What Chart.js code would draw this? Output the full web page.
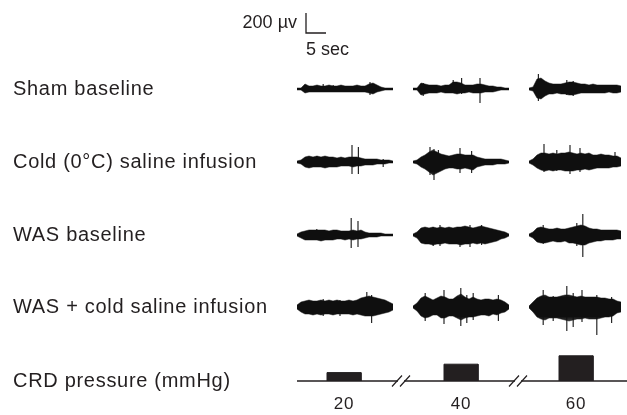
<!DOCTYPE html>
<html>
<head>
<meta charset="utf-8">
<script src="https://cdn.jsdelivr.net/npm/chart.js@4/dist/chart.umd.min.js"></script>
<style>
html, body { margin: 0; padding: 0; background: #fff; }
#wrap { width: 627px; height: 415px; }
</style>
</head>
<body>
<div id="wrap"><canvas id="emgChart"></canvas></div>
<script>
// rows, top to bottom
const rowLabels = ['Sham baseline', 'Cold (0°C) saline infusion', 'WAS baseline', 'WAS + cold saline infusion', 'CRD pressure (mmHg)'];
const rowBase = [3010, 2280, 1550, 830, 90];   // µV offset of each trace
const segStart = [0.25, 29.25, 58.25];         // sec, one recording window per CRD step
const sampleStep = 1;                          // sec between envelope samples

// EMG envelope: µV above / below the baseline
const shamUp = [
  [10,10,50,30,30,40,30,30,40,30,30,40,30,30,30,40,30,30,50,60,40,20,10,10,10],
  [10,10,60,50,40,40,40,30,40,40,70,70,60,40,40,40,50,50,40,30,30,20,20,10,10],
  [10,20,100,110,80,60,50,50,50,60,70,70,60,50,50,40,50,40,40,40,40,40,40,30]
];
const shamDown = [
  [10,10,40,30,30,30,30,30,30,30,30,30,30,30,30,30,30,30,40,50,30,20,10,10,10],
  [10,10,60,50,40,40,40,30,40,40,40,50,40,40,30,40,40,40,30,30,30,20,10,10,10],
  [10,20,90,100,70,50,50,40,50,50,60,60,50,40,40,40,40,40,40,40,30,40,40,30]
];
const shamSpikes = [[6.8,50,30],[9.3,40,30],[18.5,70,60],[31.8,60,70],[39.3,90,40],[41.4,110,50],[46,110,140],[60.6,150,120],[67.7,90,60],[69.3,80,70]];

const coldUp = [
  [10,20,50,60,50,60,50,60,50,50,40,50,40,50,50,50,40,30,30,30,30,20,20,20,10],
  [10,20,50,70,100,120,100,80,70,60,70,80,80,70,70,70,50,40,30,30,30,30,30,20,10],
  [10,30,70,90,90,80,90,80,90,90,100,90,80,90,80,90,70,70,80,70,70,60,60,40]
];
const coldDown = [
  [10,20,50,60,50,50,50,60,50,50,50,40,40,40,50,40,40,30,30,30,20,20,20,10,10],
  [10,20,50,70,100,130,110,90,70,60,60,70,70,60,70,80,50,40,30,30,30,20,20,20,10],
  [10,30,60,80,90,80,90,80,80,90,90,90,80,80,70,80,70,60,60,60,60,50,50,40]
];
const coldSpikes = [[5.2,60,50],[14,170,120],[15.6,150,120],[21.8,30,50],[33.5,150,130],[34.5,130,180],[35.6,120,90],[41,140,110],[43.9,110,110],[62,180,100],[65.2,120,90],[68.5,170,120],[71,140,100],[79.75,100,50]];

const wasUp = [
  [10,30,40,50,50,50,50,50,40,50,50,40,40,40,50,40,50,30,20,20,20,20,10,10,10],
  [10,30,70,80,70,80,70,80,70,80,70,80,80,90,80,70,80,90,80,70,60,50,40,30,10],
  [10,30,70,80,70,60,60,70,60,60,70,80,90,100,90,70,60,60,50,50,50,50,50,40]
];
const wasDown = [
  [10,30,50,50,50,50,60,50,50,50,40,40,50,40,50,40,40,30,20,20,20,10,10,10,10],
  [10,30,80,90,90,100,90,90,80,90,90,90,100,90,90,80,90,80,90,80,70,60,40,30,10],
  [10,30,70,80,80,70,60,70,70,60,80,80,90,100,100,80,70,60,60,50,50,50,40,40]
];
const wasSpikes = [[5.2,60,50],[13.8,170,130],[15.5,140,120],[34.3,80,110],[36,100,110],[41,80,120],[43.5,100,120],[46.4,100,100],[61.8,100,90],[70.2,120,110],[71.7,210,220]];

const wasColdUp = [
  [20,50,60,70,60,60,70,60,70,60,70,60,60,70,60,70,90,100,110,100,90,80,70,50,30],
  [10,40,90,110,90,70,90,110,100,80,80,110,130,100,80,100,80,70,80,80,70,80,70,50,20],
  [10,50,90,110,120,100,100,100,110,120,120,110,100,110,100,100,100,100,90,90,80,80,60,50]
];
const wasColdDown = [
  [20,50,70,70,80,70,80,70,70,80,70,70,70,70,80,70,80,90,90,90,80,70,60,50,30],
  [10,40,90,110,100,80,80,110,110,90,90,110,130,110,100,100,90,80,80,90,70,80,60,50,20],
  [10,50,100,120,130,110,110,110,120,130,140,130,120,120,110,120,120,120,110,100,100,90,60,50]
];
const wasColdSpikes = [[6.8,80,90],[11,70,90],[17.7,150,90],[18.9,120,160],[32.3,140,140],[37,170,170],[41.2,190,190],[42.7,120,160],[44.3,140,130],[50.6,120,140],[61.8,170,180],[64.3,110,140],[67.7,210,240],[69.3,140,200],[71.5,170,150],[75.2,120,280],[78.9,100,160]];

// colorectal distension steps
const crdPressure = [20, 40, 60];        // mmHg
const crdOnset = [7.75, 37, 65.75];      // sec
const crdDuration = 8.5;                 // sec
const crdScale = 4.2;                    // display units per mmHg
const crdLine = [[0.25, 25.5], [27, 54.75], [56.25, 82.75]]; // baseline pieces between axis breaks
const breakTimes = [26.25, 55.5];

// scale bar: 200 µV, 5 sec
const scaleBarAt = [2.5, 3570];
const scaleBarSize = [5, 200];

const ink = 'rgb(15,15,15)';
const textInk = '#231f20';

const traceRows = [
  { up: shamUp, down: shamDown, spikes: shamSpikes },
  { up: coldUp, down: coldDown, spikes: coldSpikes },
  { up: wasUp, down: wasDown, spikes: wasSpikes },
  { up: wasColdUp, down: wasColdDown, spikes: wasColdSpikes }
];

// solid centre, fuzzier towards the edges of each trace
function traceFill(context) {
  const chart = context.chart;
  const row = context.dataset.row;
  if (!chart.chartArea) return ink;
  const y = chart.scales.y;
  const base = rowBase[row];
  const top = y.getPixelForValue(base + 240);
  const bottom = y.getPixelForValue(base - 240);
  const g = chart.ctx.createLinearGradient(0, top, 0, bottom);
  g.addColorStop(0, 'rgba(15,15,15,0.45)');
  g.addColorStop(0.15, 'rgba(15,15,15,0.7)');
  g.addColorStop(0.3, 'rgba(15,15,15,1)');
  g.addColorStop(0.7, 'rgba(15,15,15,1)');
  g.addColorStop(0.85, 'rgba(15,15,15,0.7)');
  g.addColorStop(1, 'rgba(15,15,15,0.45)');
  return g;
}

const datasets = [];
traceRows.forEach((row, r) => {
  const base = rowBase[r];
  row.up.forEach((seg, s) => {
    const t0 = segStart[s];
    datasets.push({
      row: r,
      data: seg.map((v, i) => ({ x: t0 + i * sampleStep, y: base + v })),
      fill: '+1', backgroundColor: traceFill, borderColor: 'rgba(15,15,15,0.7)', borderWidth: 0.7
    });
    datasets.push({
      row: r,
      data: row.down[s].map((v, i) => ({ x: t0 + i * sampleStep, y: base - v })),
      fill: false, borderColor: 'rgba(15,15,15,0.7)', borderWidth: 0.7
    });
  });
  const pts = [];
  row.spikes.forEach(([t, u, d]) => {
    pts.push({ x: t, y: base + u }, { x: t, y: base - d }, { x: t, y: null });
  });
  datasets.push({ data: pts, fill: false, borderColor: 'rgba(15,15,15,0.9)', borderWidth: 1.2, spanGaps: false });
});

// CRD trace
const crdBase = rowBase[4];
const linePts = [];
crdLine.forEach(([a, b]) => { linePts.push({ x: a, y: crdBase }, { x: b, y: crdBase }, { x: b, y: null }); });
datasets.push({ data: linePts, fill: false, borderColor: textInk, borderWidth: 1.4, spanGaps: false });

crdPressure.forEach((p, i) => {
  const h = crdBase + p * crdScale;
  const a = crdOnset[i], b = crdOnset[i] + crdDuration;
  datasets.push({
    data: [{ x: a, y: crdBase }, { x: a, y: h }, { x: b, y: h }, { x: b, y: crdBase }],
    fill: { value: crdBase }, backgroundColor: textInk, borderColor: textInk, borderWidth: 1
  });
});

const slashPts = [];
breakTimes.forEach(c => {
  [-1, 1].forEach(off => {
    slashPts.push({ x: c + off - 1.25, y: crdBase - 55 }, { x: c + off + 1.25, y: crdBase + 55 }, { x: c, y: null });
  });
});
datasets.push({ data: slashPts, fill: false, borderColor: textInk, borderWidth: 1.2, spanGaps: false });

// scale bar
datasets.push({
  data: [
    { x: scaleBarAt[0], y: scaleBarAt[1] + scaleBarSize[1] },
    { x: scaleBarAt[0], y: scaleBarAt[1] },
    { x: scaleBarAt[0] + scaleBarSize[0], y: scaleBarAt[1] }
  ],
  fill: false, borderColor: textInk, borderWidth: 1.3
});

const labelSpacing = {
  id: 'labelSpacing',
  beforeDraw(chart) { chart.ctx.letterSpacing = '0.7px'; },
  beforeDatasetsDraw(chart) { chart.ctx.letterSpacing = '0px'; }
};

const scaleText = {
  id: 'scaleText',
  afterDatasetsDraw(chart) {
    const { ctx, scales: { x, y } } = chart;
    const px = x.getPixelForValue(scaleBarAt[0]);
    const py = y.getPixelForValue(scaleBarAt[1]);
    const pyTop = y.getPixelForValue(scaleBarAt[1] + scaleBarSize[1]);
    ctx.save();
    ctx.fillStyle = textInk;
    ctx.font = '18px "Liberation Sans", Arial, sans-serif';
    ctx.textBaseline = 'middle';
    ctx.textAlign = 'right';
    ctx.fillText('200 µv', px - 9, (py + pyTop) / 2);
    ctx.textAlign = 'left';
    ctx.fillText('5 sec', px, py + 17);
    ctx.restore();
  }
};

new Chart(document.getElementById('emgChart'), {
  type: 'line',
  data: { datasets },
  plugins: [labelSpacing, scaleText],
  options: {
    responsive: true,
    maintainAspectRatio: false,
    animation: false,
    layout: { padding: { left: 13, right: 0, top: 0, bottom: 0 } },
    elements: { point: { radius: 0 }, line: { tension: 0 } },
    plugins: { legend: { display: false }, tooltip: { enabled: false } },
    scales: {
      x: {
        type: 'linear', min: 0, max: 82.75, z: 1,
        grid: { display: false, drawTicks: false }, border: { display: false },
        afterBuildTicks: axis => {
          axis.ticks = crdOnset.map(t => ({ value: t + crdDuration / 2 }));
        },
        afterFit: axis => { axis.height = 25; axis.paddingLeft = 0; axis.paddingRight = 0; },
        ticks: {
          autoSkip: false, maxRotation: 0, padding: 4, color: textInk,
          font: { family: '"Liberation Sans", Arial, sans-serif', size: 17 },
          callback: (v, i) => crdPressure[i]
        }
      },
      y: {
        type: 'linear', min: 0, max: 3900,
        grid: { display: false, drawTicks: false }, border: { display: false },
        afterBuildTicks: axis => {
          axis.ticks = rowBase.slice().sort((a, b) => a - b).map(v => ({ value: v }));
        },
        afterFit: axis => { axis.width = 283; axis.paddingTop = 0; axis.paddingBottom = 0; },
        ticks: {
          crossAlign: 'far', autoSkip: false, color: textInk,
          font: { family: '"Liberation Sans", Arial, sans-serif', size: 20 },
          callback: v => rowLabels[rowBase.indexOf(v)]
        }
      }
    }
  }
});
</script>
</body>
</html>
